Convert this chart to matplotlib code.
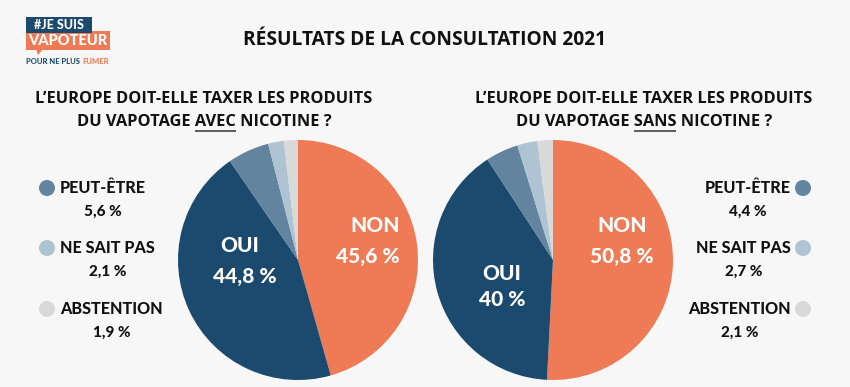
import matplotlib.pyplot as plt
from matplotlib.patches import Rectangle, Circle, Polygon

# data
labels = ["NON", "OUI", "PEUT-ÊTRE", "NE SAIT PAS", "ABSTENTION"]
avec = [45.6, 44.8, 5.6, 2.1, 1.9]
sans = [50.8, 40.0, 4.4, 2.7, 2.1]
avec_txt = ["45,6 %", "44,8 %", "5,6 %", "2,1 %", "1,9 %"]
sans_txt = ["50,8 %", "40 %", "4,4 %", "2,7 %", "2,1 %"]
colors = ["#ee7b56", "#1c4a6e", "#62849f", "#afc4d2", "#d9d9d9"]

bg = "#f7f7f7"
dark = "#111111"

fig = plt.figure(figsize=(8.5, 3.87), dpi=100, facecolor=bg)
ax = fig.add_axes([0, 0, 1, 1])
ax.set_facecolor(bg)

# pies (y axis inverted, so start at 270 and go counterclock in data space)
ax.pie(avec, colors=colors, center=(298, 260), radius=120, startangle=270,
       counterclock=True, frame=True, wedgeprops=dict(linewidth=0))
ax.pie(sans, colors=colors, center=(553, 260), radius=120, startangle=270,
       counterclock=True, frame=True, wedgeprops=dict(linewidth=0))
ax.set_xlim(0, 850)
ax.set_ylim(387, 0)
ax.set_aspect("equal")
ax.axis("off")

lab = dict(color="white", fontsize=15, fontweight="black", family="Lato",
           ha="center", va="center")
ax.text(375, 226, "NON", **lab)
ax.text(368, 257, avec_txt[0], **lab)
ax.text(240, 246, "OUI", **lab)
ax.text(245, 277, avec_txt[1], **lab)
ax.text(622, 226, "NON", **lab)
ax.text(622, 257, sans_txt[0], **lab)
ax.text(502, 273, "OUI", **lab)
ax.text(502, 300, sans_txt[1], **lab)

# title
ax.text(425, 40, "RÉSULTATS DE LA CONSULTATION 2021", fontsize=13.8,
        fontweight="bold", family="Open Sans", color=dark, ha="center", va="center")

sub = dict(fontsize=11.8, fontweight="bold", family="Open Sans", color=dark,
           ha="center", va="center")
fig.canvas.draw()
rend = fig.canvas.get_renderer()
inv = ax.transData.inverted()
for cx, word in [(204, "AVEC"), (644, "SANS")]:
    ax.text(cx, 99, "L\u2019EUROPE DOIT-ELLE TAXER LES PRODUITS", **sub)
    t = ax.text(cx, 122, "DU VAPOTAGE " + word + " NICOTINE ?", **sub)
    bb = t.get_window_extent(rend)
    tmp1 = ax.text(0, 0, "DU VAPOTAGE " + word, **{**sub, "ha": "left"})
    tmp2 = ax.text(0, 0, word, **{**sub, "ha": "left"})
    w1 = tmp1.get_window_extent(rend).width
    w2 = tmp2.get_window_extent(rend).width
    tmp1.remove()
    tmp2.remove()
    x_end = inv.transform((bb.x0 + w1, 0))[0]
    x_start = inv.transform((bb.x0 + w1 - w2, 0))[0]
    ax.plot([x_start, x_end], [130.5, 130.5], color="#444444", lw=1.2,
            solid_capstyle="butt")

# legends
rows_y = [188, 248, 309]
val_y = [212, 272, 333]
leg = dict(fontsize=11.6, fontweight="black", family="Lato", color=dark, va="center")
val = dict(fontsize=11, fontweight="black", family="Lato", color=dark,
           ha="center", va="center")
for i in range(3):
    c = colors[i + 2]
    name = labels[i + 2]
    # left
    ax.add_patch(Circle((47, rows_y[i]), 8, color=c, lw=0))
    t = ax.text(60, rows_y[i], name, ha="left", **leg)
    bb = t.get_window_extent(rend)
    xc = inv.transform(((bb.x0 + bb.x1) / 2, 0))[0]
    ax.text(xc, val_y[i], avec_txt[i + 2], **val)
    # right
    ax.add_patch(Circle((803, rows_y[i]), 8, color=c, lw=0))
    t = ax.text(791, rows_y[i], name, ha="right", **leg)
    bb = t.get_window_extent(rend)
    xc = inv.transform(((bb.x0 + bb.x1) / 2, 0))[0]
    ax.text(xc, val_y[i], sans_txt[i + 2], **val)

# logo
ax.add_patch(Rectangle((26, 31), 84, 19, color="#ee7b56", lw=0))
ax.add_patch(Polygon([(36, 49), (43, 49), (38, 55)], color="#ee7b56", lw=0))
ax.add_patch(Rectangle((26, 17), 66, 16, color="#1c4a6e", lw=0))
ax.text(59, 25, "#JE SUIS", color="white", fontsize=9, fontweight="black",
        family="Lato", ha="center", va="center")
ax.text(68, 41, "VAPOTEUR", color="white", fontsize=10.5, fontweight="black",
        family="Lato", ha="center", va="center")
t = ax.text(26, 61, "POUR NE PLUS", color="#1c4a6e", fontsize=5.5,
            fontweight="black", family="Lato", ha="left", va="center")
bb = t.get_window_extent(rend)
x_f = inv.transform((bb.x1, 0))[0] + 2.5
ax.text(x_f, 61, "FUMER", color="#ee7b56", fontsize=5.5, fontweight="black",
        family="Lato", ha="left", va="center")

fig.savefig("out.png", dpi=100, facecolor=bg)
